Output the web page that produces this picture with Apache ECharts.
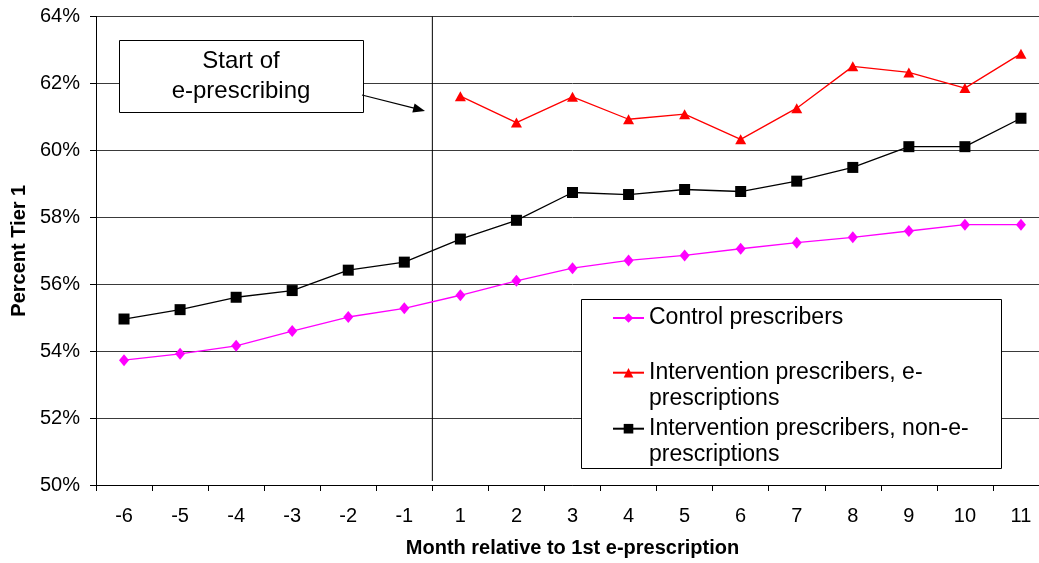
<!DOCTYPE html>
<html>
<head>
<meta charset="utf-8">
<script src="https://cdn.jsdelivr.net/npm/echarts@6/dist/echarts.min.js"></script>
<style>html,body{margin:0;padding:0;background:#fff;overflow:hidden}#c{width:1052px;height:563px}</style>
</head>
<body>
<div id="c"></div>
<script>
const months = ['-6','-5','-4','-3','-2','-1','1','2','3','4','5','6','7','8','9','10','11'];
const yTicks = { min: 50, max: 64, interval: 2 };
const controlName = 'Control prescribers';
const eName = 'Intervention prescribers, e-prescriptions';
const nonEName = 'Intervention prescribers, non-e-prescriptions';
const control = [53.73,53.92,54.16,54.60,55.02,55.28,55.67,56.10,56.48,56.71,56.86,57.06,57.24,57.40,57.59,57.78,57.78];
const eRx = ['-','-','-','-','-','-',61.62,60.83,61.60,60.93,61.08,60.33,61.26,62.51,62.33,61.86,62.89];
const nonE = [54.96,55.24,55.61,55.81,56.42,56.66,57.35,57.91,58.74,58.68,58.83,58.77,59.08,59.49,60.11,60.11,60.96];
const startLine = [[6, 50.12], [6, 64]];

const chart = echarts.init(document.getElementById('c'), null, { renderer: 'canvas' });
const FONT = 'Liberation Sans, Arial, sans-serif';
const legendText = { fontFamily: FONT, fontSize: 23, color: '#000', lineHeight: 26 };

function mkLegend(name, top, label) {
  return {
    show: true, data: [{ name: name }],
    left: 612, top: top, orient: 'vertical', padding: 0, itemWidth: 31, itemHeight: 12,
    itemGap: 0, selectedMode: false, formatter: function () { return label; },
    textStyle: legendText, z: 10
  };
}

const option = {
  animation: false,
  backgroundColor: '#fff',
  grid: { left: 96, top: 16.5, width: 953, bottom: 77, containLabel: false },
  xAxis: [{
    type: 'category', data: months, boundaryGap: true,
    axisLine: { lineStyle: { color: '#000', width: 1 } },
    axisTick: { show: true, interval: 0, length: 6, lineStyle: { color: '#000' } },
    axisLabel: { interval: 0, margin: 21, fontFamily: FONT, fontSize: 20, color: '#000' },
    name: 'Month relative to 1st e-prescription', nameLocation: 'middle', nameGap: 53,
    nameTextStyle: { fontFamily: FONT, fontSize: 20, fontWeight: 'bold', color: '#000' },
    splitLine: { show: false }
  }, {
    type: 'value', min: 0, max: 17, show: false, gridIndex: 0
  }],
  yAxis: {
    type: 'value', min: yTicks.min, max: yTicks.max, interval: yTicks.interval,
    axisLine: { show: true, lineStyle: { color: '#000', width: 1 } },
    axisTick: { show: true, length: 6, lineStyle: { color: '#000' } },
    axisLabel: { formatter: '{value}%', margin: 16, fontFamily: FONT, fontSize: 20, color: '#000' },
    splitLine: { show: true, lineStyle: { color: '#3a3a3a', width: 1 } },
    name: 'Percent Tier 1', nameLocation: 'middle', nameGap: 64, nameRotate: 90,
    nameTextStyle: { fontFamily: FONT, fontSize: 20, fontWeight: 'bold', color: '#000' }
  },
  legend: [
    mkLegend(controlName, 305, 'Control prescribers'),
    mkLegend(eName, 333.7, '\nIntervention prescribers, e-\nprescriptions'),
    mkLegend(nonEName, 389.7, '\nIntervention prescribers, non-e-\nprescriptions')
  ],
  graphic: [
    { type: 'rect', z: 5, shape: { x: 581.5, y: 299.5, width: 420, height: 169 },
      style: { fill: '#fff', stroke: '#000', lineWidth: 1 } },
    { type: 'rect', z: 5, shape: { x: 119.5, y: 40.5, width: 244, height: 72 },
      style: { fill: '#fff', stroke: '#000', lineWidth: 1 } },
    { type: 'text', z: 6, x: 241, y: 76,
      style: { text: 'Start of\ne-prescribing', fontFamily: FONT, fontSize: 24, lineHeight: 30,
        fill: '#000', align: 'center', verticalAlign: 'middle' } },
    { type: 'line', z: 6, shape: { x1: 362, y1: 95, x2: 414, y2: 108.2 },
      style: { stroke: '#000', lineWidth: 1.2 } },
    { type: 'polygon', z: 6, shape: { points: [[425, 111], [412.3, 112.6], [414.6, 103.6]] },
      style: { fill: '#000' } }
  ],
  series: [
    { name: controlName, type: 'line', data: control, symbol: 'diamond', symbolSize: [10, 12],
      itemStyle: { color: '#ff00ff' }, lineStyle: { color: '#ff00ff', width: 1.3 }, z: 3 },
    { name: eName, type: 'line', data: eRx, symbol: 'triangle', symbolSize: [11, 10],
      itemStyle: { color: '#ff0000' }, lineStyle: { color: '#ff0000', width: 1.3 }, z: 3 },
    { name: nonEName, type: 'line', data: nonE, symbol: 'rect', symbolSize: 11,
      itemStyle: { color: '#000' }, lineStyle: { color: '#000', width: 1.3 }, z: 3 },
    { name: 'start', type: 'line', xAxisIndex: 1, data: startLine, symbol: 'none',
      lineStyle: { color: '#000', width: 1 }, z: 2, silent: true }
  ]
};
chart.setOption(option);
</script>
</body>
</html>
